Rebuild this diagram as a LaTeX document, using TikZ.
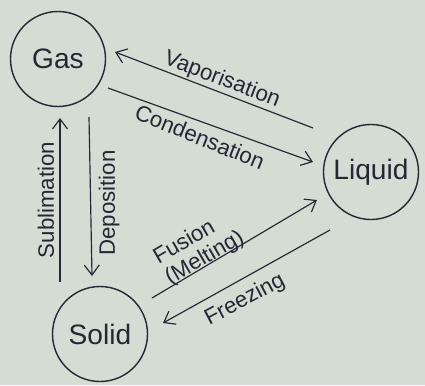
\documentclass[tikz,border=0pt]{standalone}
\usepackage{fontspec}
\setmainfont{Liberation Sans}
\usetikzlibrary{arrows.meta}
\definecolor{paper}{RGB}{212,220,212}
\definecolor{ink}{RGB}{38,38,52}
\begin{document}
\begin{tikzpicture}[
    x=0.03cm, y=-0.03cm,
    phase/.style = {draw=ink, circle, line width=1.2pt, minimum size=2.85cm, inner sep=0pt, text=ink, font=\fontsize{24}{28}\selectfont},
    arr/.style = {draw=ink, line width=1pt, -{Straight Barb[length=3mm,width=4.5mm]}},
    lbl/.style = {text=ink, inner sep=1pt, font=\fontsize{19}{20}\selectfont}
  ]
  \fill[paper] (0,0) rectangle (425,385);

  \node[phase] (gas) at (58,59) {Gas};
  \node[phase] (liquid) at (371,172) {Liquid};
  \node[phase] (solid) at (100,334) {Solid};

  \coordinate (v1) at (313,128);
  \coordinate (v2) at (115,52);
  \coordinate (c1) at (108,88);
  \coordinate (c2) at (313,162);
  \coordinate (s1) at (60,282);
  \coordinate (s2) at (60,118);
  \coordinate (d1) at (89,117);
  \coordinate (d2) at (92,276);
  \coordinate (f1) at (152,298);
  \coordinate (f2) at (317,200);
  \coordinate (z1) at (330,230);
  \coordinate (z2) at (163,323);

  \draw[arr] (v1) -- (v2);
  \draw[arr] (c1) -- (c2);
  \draw[arr] (s1) -- (s2);
  \draw[arr] (d1) -- (d2);
  \draw[arr] (f1) -- (f2);
  \draw[arr] (z1) -- (z2);

  \node[lbl, rotate=-21] (vap) at (222,80) {Vaporisation};
  \node[lbl, rotate=-22] (cond) at (200,137) {Condensation};
  \node[lbl, rotate=90] (subl) at (46,200) {Sublimation};
  \node[lbl, rotate=90] (depo) at (109,203) {Deposition};
  \node[lbl, rotate=30, align=left] (fus) at (199,248) {Fusion\\(Melting)};
  \node[lbl, rotate=28] (frz) at (245,300) {Freezing};
\end{tikzpicture}
\end{document}
